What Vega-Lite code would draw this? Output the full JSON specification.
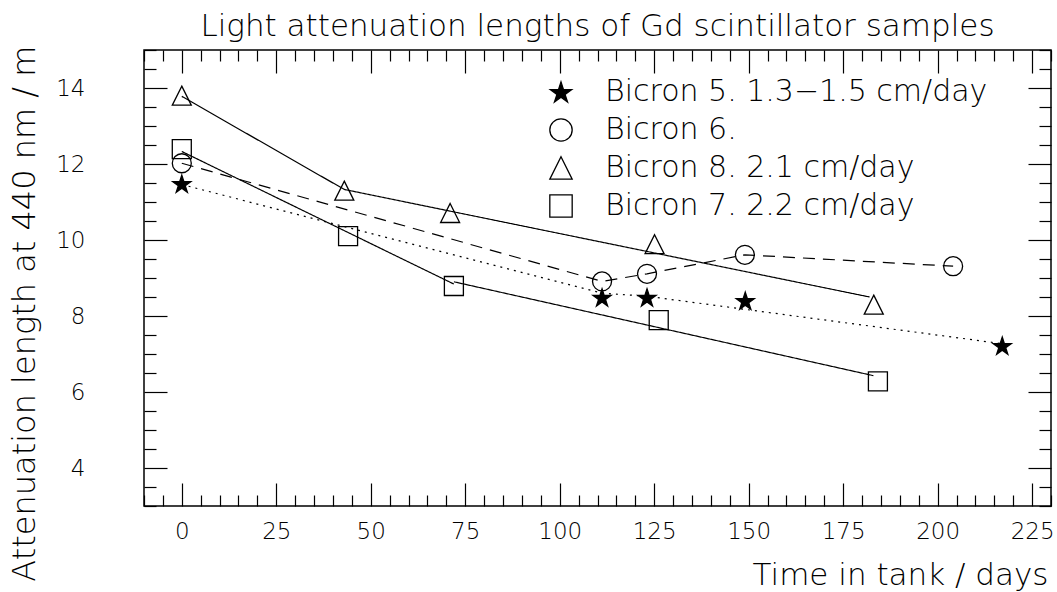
{
  "$schema": "https://vega.github.io/schema/vega-lite/v6.json",
  "autosize": {"type": "none"},
  "width": 907,
  "height": 456,
  "padding": {"left": 144, "top": 50, "right": 6, "bottom": 86},
  "background": "white",
  "config": {
    "view": {"stroke": "black", "strokeWidth": 1.5},
    "font": "DejaVu Sans",
    "axis": {"grid": false, "domain": false, "tickColor": "black", "tickWidth": 1.2, "labelColor": "black", "titleColor": "black", "labelFont": "DejaVu Sans", "titleFont": "DejaVu Sans", "labelFontWeight": 200, "titleFontWeight": 200, "labelOverlap": false, "labelFlush": false},
    "legend": {"orient": "none", "legendX": 402, "legendY": 27, "title": null, "padding": 0, "labelFont": "DejaVu Sans", "labelFontWeight": 200, "labelFontSize": 30, "labelColor": "black", "labelLimit": 0, "labelOffset": 29, "rowPadding": 8, "symbolSize": 500, "symbolStrokeColor": "black", "symbolStrokeWidth": 1.3}
  },
  "title": {"text": "Light attenuation lengths of Gd scintillator samples", "fontSize": 31, "font": "DejaVu Sans", "fontWeight": 200, "color": "black", "anchor": "middle", "offset": -4},
  "datasets": {
    "pts": [
      {"series": "Bicron 5. 1.3−1.5 cm/day", "t": 0, "len": 11.48},
      {"series": "Bicron 5. 1.3−1.5 cm/day", "t": 111.2, "len": 8.49},
      {"series": "Bicron 5. 1.3−1.5 cm/day", "t": 123.1, "len": 8.49},
      {"series": "Bicron 5. 1.3−1.5 cm/day", "t": 149.1, "len": 8.4},
      {"series": "Bicron 5. 1.3−1.5 cm/day", "t": 217.1, "len": 7.22},
      {"series": "Bicron 6.", "t": 0, "len": 12.02},
      {"series": "Bicron 6.", "t": 111.2, "len": 8.91},
      {"series": "Bicron 6.", "t": 123.1, "len": 9.11},
      {"series": "Bicron 6.", "t": 149, "len": 9.61},
      {"series": "Bicron 6.", "t": 204.1, "len": 9.31},
      {"series": "Bicron 8. 2.1 cm/day", "t": 0, "len": 13.8},
      {"series": "Bicron 8. 2.1 cm/day", "t": 43, "len": 11.3},
      {"series": "Bicron 8. 2.1 cm/day", "t": 71, "len": 10.71},
      {"series": "Bicron 8. 2.1 cm/day", "t": 125.1, "len": 9.89},
      {"series": "Bicron 8. 2.1 cm/day", "t": 183.1, "len": 8.3},
      {"series": "Bicron 7. 2.2 cm/day", "t": 0, "len": 12.39},
      {"series": "Bicron 7. 2.2 cm/day", "t": 44, "len": 10.1},
      {"series": "Bicron 7. 2.2 cm/day", "t": 72, "len": 8.79},
      {"series": "Bicron 7. 2.2 cm/day", "t": 126.2, "len": 7.89},
      {"series": "Bicron 7. 2.2 cm/day", "t": 184.2, "len": 6.28}
    ],
    "lines": [
      {"seg": "b8", "style": "solid", "t": 0, "len": 13.78},
      {"seg": "b8", "style": "solid", "t": 43, "len": 11.33},
      {"seg": "b8", "style": "solid", "t": 182, "len": 8.5},
      {"seg": "b7a", "style": "solid", "t": 0, "len": 12.33},
      {"seg": "b7a", "style": "solid", "t": 72, "len": 8.84},
      {"seg": "b7b", "style": "solid", "t": 72, "len": 8.9},
      {"seg": "b7b", "style": "solid", "t": 183, "len": 6.43},
      {"seg": "b6", "style": "dashed", "t": 0, "len": 12.02},
      {"seg": "b6", "style": "dashed", "t": 111.2, "len": 8.91},
      {"seg": "b6", "style": "dashed", "t": 123.1, "len": 9.11},
      {"seg": "b6", "style": "dashed", "t": 149, "len": 9.61},
      {"seg": "b6", "style": "dashed", "t": 204.1, "len": 9.31},
      {"seg": "b5", "style": "dotted", "t": 0, "len": 11.46},
      {"seg": "b5", "style": "dotted", "t": 111.2, "len": 8.6},
      {"seg": "b5", "style": "dotted", "t": 123.1, "len": 8.52},
      {"seg": "b5", "style": "dotted", "t": 217.1, "len": 7.27}
    ]
  },
  "resolve": {"axis": {"x": "independent", "y": "independent"}},
  "layer": [
    {
      "data": {"name": "lines"},
      "mark": {"type": "line", "color": "black", "strokeWidth": 1.2},
      "encoding": {
        "x": {"field": "t", "type": "quantitative", "scale": {"domain": [-10, 230], "nice": false, "zero": false},
          "axis": {"orient": "bottom", "values": [-10,-5,0,5,10,15,20,25,30,35,40,45,50,55,60,65,70,75,80,85,90,95,100,105,110,115,120,125,130,135,140,145,150,155,160,165,170,175,180,185,190,195,200,205,210,215,220,225,230],
            "tickSize": {"condition": {"test": "datum.value % 25 === 0", "value": -23}, "value": -11},
            "labelExpr": "datum.value % 25 === 0 && datum.value >= 0 && datum.value <= 225 ? datum.label : ''",
            "labelFontSize": 23, "labelPadding": 37,
            "title": "Time in tank / days", "titleFontSize": 31, "titleAnchor": null, "titleAlign": "right", "titleBaseline": "alphabetic", "titleX": 904, "titleY": 78}},
        "y": {"field": "len", "type": "quantitative", "scale": {"domain": [3, 15], "nice": false, "zero": false},
          "axis": {"orient": "left", "values": [3,3.5,4,4.5,5,5.5,6,6.5,7,7.5,8,8.5,9,9.5,10,10.5,11,11.5,12,12.5,13,13.5,14,14.5,15],
            "tickSize": {"condition": {"test": "datum.value % 2 === 0", "value": -23}, "value": -12},
            "format": ".0f",
            "labelExpr": "datum.value % 2 === 0 ? datum.label : ''",
            "labelFontSize": 23, "labelPadding": 82,
            "title": "Attenuation length at 440 nm / m", "titleFontSize": 32, "titleAnchor": null, "titleAngle": -90, "titleAlign": "right", "titleBaseline": "alphabetic", "titleX": -110, "titleY": -5}},
        "detail": {"field": "seg"},
        "strokeDash": {"field": "style", "type": "nominal", "scale": {"domain": ["solid", "dashed", "dotted"], "range": [[1, 0], [12, 8], [2, 5]]}, "legend": null}
      }
    },
    {
      "data": {"name": "pts"},
      "mark": {"type": "point", "strokeWidth": 1.3, "size": 361, "opacity": 1},
      "encoding": {
        "x": {"field": "t", "type": "quantitative",
          "axis": {"orient": "top", "values": [-10,-5,0,5,10,15,20,25,30,35,40,45,50,55,60,65,70,75,80,85,90,95,100,105,110,115,120,125,130,135,140,145,150,155,160,165,170,175,180,185,190,195,200,205,210,215,220,225,230],
            "tickSize": {"condition": {"test": "datum.value % 25 === 0", "value": -23}, "value": -11},
            "labels": false, "title": null}},
        "y": {"field": "len", "type": "quantitative",
          "axis": {"orient": "right", "values": [3,3.5,4,4.5,5,5.5,6,6.5,7,7.5,8,8.5,9,9.5,10,10.5,11,11.5,12,12.5,13,13.5,14,14.5,15],
            "tickSize": {"condition": {"test": "datum.value % 2 === 0", "value": -23}, "value": -12},
            "labels": false, "title": null}},
        "shape": {"field": "series", "type": "nominal",
          "scale": {"domain": ["Bicron 5. 1.3−1.5 cm/day", "Bicron 6.", "Bicron 8. 2.1 cm/day", "Bicron 7. 2.2 cm/day"],
            "range": ["M0,-0.905L0.2245,-0.214L0.951,-0.214L0.363,0.213L0.588,0.904L0,0.477L-0.588,0.904L-0.363,0.213L-0.951,-0.214L-0.2245,-0.214Z", "circle", "M0,-1L1,1L-1,1Z", "square"]}},
        "fill": {"field": "series", "type": "nominal",
          "scale": {"domain": ["Bicron 5. 1.3−1.5 cm/day", "Bicron 6.", "Bicron 8. 2.1 cm/day", "Bicron 7. 2.2 cm/day"], "range": ["black", "transparent", "transparent", "transparent"]}},
        "stroke": {"field": "series", "type": "nominal",
          "scale": {"domain": ["Bicron 5. 1.3−1.5 cm/day", "Bicron 6.", "Bicron 8. 2.1 cm/day", "Bicron 7. 2.2 cm/day"], "range": ["black", "black", "black", "black"]}}
      }
    }
  ]
}
